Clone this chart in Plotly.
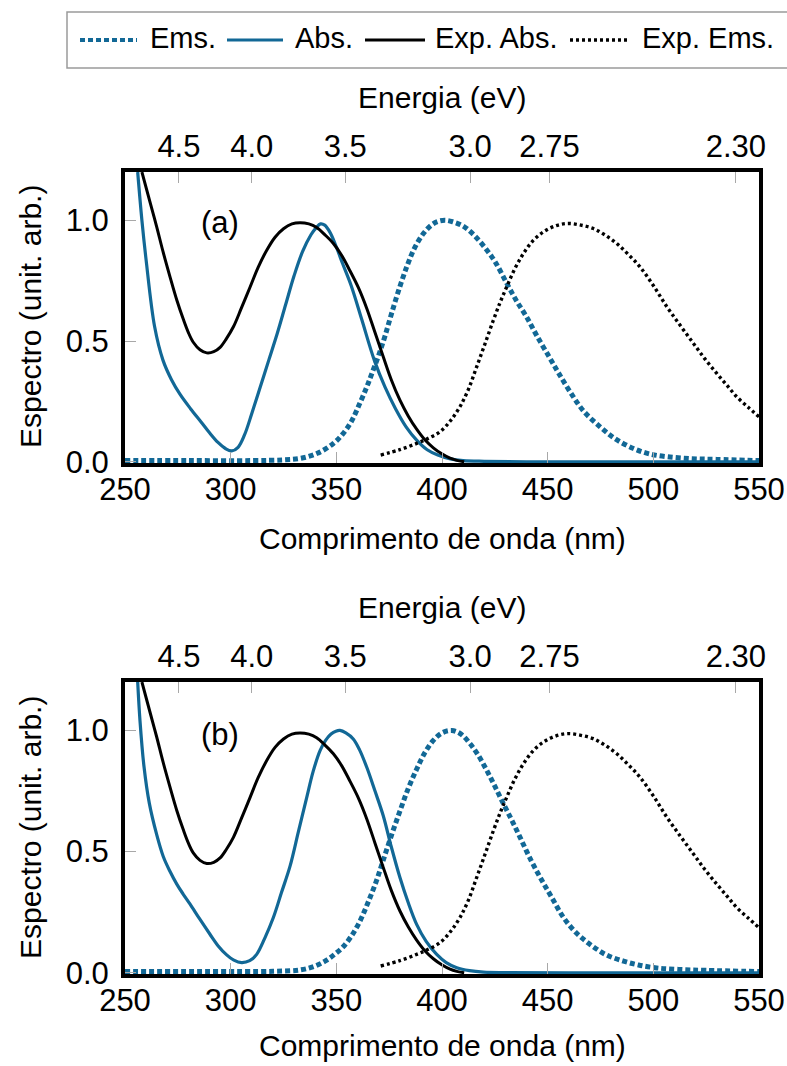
import plotly.graph_objects as go

# ---------------- data ----------------
wl_ticks = [250, 300, 350, 400, 450, 500, 550]
energy_ticks = [4.5, 4.0, 3.5, 3.0, 2.75, 2.30]
energy_labels = ["4.5", "4.0", "3.5", "3.0", "2.75", "2.30"]
y_ticks = [0.0, 0.5, 1.0]
y_labels = ["0.0", "0.5", "1.0"]

# experimental spectra (same in both panels)
exp_abs_wl = [258, 262, 265, 268, 271.3, 274.5, 277.6, 280, 282.3, 285.5, 288.7, 292, 295, 298,
              301.3, 305, 309.2, 313, 317, 321, 325, 329, 332.8, 337, 340.7, 344.6, 348.6, 352.5,
              356.5, 360.5, 364.4, 368.3, 372.2, 376, 380.1, 384, 388, 392, 395.9, 399.9, 403.8,
              407, 410.5]
exp_abs_y = [1.2, 1.07, 0.973, 0.87, 0.766, 0.67, 0.59, 0.535, 0.495, 0.464, 0.451, 0.456, 0.474,
             0.51, 0.559, 0.635, 0.724, 0.805, 0.875, 0.93, 0.965, 0.985, 0.99, 0.985, 0.97, 0.94,
             0.904, 0.855, 0.79, 0.72, 0.635, 0.535, 0.435, 0.34, 0.255, 0.19, 0.135, 0.09, 0.058,
             0.033, 0.015, 0.006, 0.0]
exp_ems_wl = [371, 380, 388, 393, 399, 404, 408.5, 412.5, 416.4, 420.4, 424.3, 427.5, 430.6, 434.5,
              438.5, 443, 448, 454, 459.8, 465.7, 471.6, 477, 482.7, 488, 493.7, 500, 506.4, 512.7,
              519, 524.5, 530, 535, 539.5, 545, 550]
exp_ems_y = [0.028, 0.05, 0.076, 0.095, 0.124, 0.17, 0.228, 0.3, 0.393, 0.49, 0.586, 0.66, 0.724,
             0.8, 0.862, 0.915, 0.952, 0.978, 0.987, 0.98, 0.966, 0.94, 0.904, 0.86, 0.807, 0.73,
             0.642, 0.565, 0.49, 0.425, 0.366, 0.315, 0.269, 0.225, 0.186]

# panel (a) computed spectra
a_abs_wl = [256, 258, 260, 264, 268, 272, 276, 281, 286, 290, 294, 297.5, 300.5, 303.5, 306.5,
            310, 314, 318, 322, 326, 330, 334, 338, 340.5, 342.5, 344.5, 347, 350, 353, 357, 362,
            368, 373, 378, 383, 388, 393, 398, 404, 410, 420, 440, 500, 550]
a_abs_y = [1.2, 1.0, 0.835, 0.56, 0.42, 0.34, 0.28, 0.22, 0.165, 0.12, 0.08, 0.055, 0.045, 0.06,
           0.11, 0.2, 0.31, 0.42, 0.53, 0.65, 0.77, 0.87, 0.94, 0.97, 0.985, 0.98, 0.95, 0.89,
           0.82, 0.73, 0.59, 0.42, 0.31, 0.22, 0.145, 0.09, 0.05, 0.028, 0.012, 0.005, 0.002, 0.0,
           0.0, 0.0]
a_ems_wl = [250, 280, 310, 325, 333, 341, 348.6, 353, 357, 361, 364.4, 367, 370, 373, 376, 379.5,
            383.3, 387, 391.2, 395, 398, 401.4, 405, 410, 415, 420, 425, 430.6, 435, 440, 445,
            451, 455, 460.6, 467, 474.8, 482, 490.6, 498, 506.4, 518, 530, 550]
a_ems_y = [0.005, 0.005, 0.005, 0.008, 0.014, 0.035, 0.076, 0.115, 0.165, 0.24, 0.31, 0.37, 0.44,
           0.52, 0.61, 0.71, 0.807, 0.885, 0.945, 0.98, 0.995, 1.0, 0.994, 0.976, 0.94, 0.89, 0.83,
           0.74, 0.67, 0.6, 0.52, 0.43, 0.37, 0.29, 0.21, 0.145, 0.095, 0.055, 0.033, 0.021, 0.013,
           0.01, 0.005]

# panel (b) computed spectra
b_abs_wl = [256, 257.1, 259, 261.5, 265, 268.1, 271.2, 274.5, 277.5, 280.8, 285.5, 290.2, 294,
            298.1, 301.5, 305.2, 309, 312.3, 316, 320.2, 324, 328.1, 332, 336, 339, 342.3, 345,
            347.5, 349.8, 351.7, 354.5, 358, 361, 364.4, 368.3, 372.2, 376, 380.1, 384, 388, 392.5,
            397.5, 402, 407, 413, 419.6, 430, 460, 550]
b_abs_y = [1.2, 1.04, 0.85, 0.70, 0.57, 0.48, 0.42, 0.366, 0.325, 0.283, 0.22, 0.159, 0.112, 0.074,
           0.052, 0.042, 0.05, 0.076, 0.14, 0.228, 0.33, 0.44, 0.58, 0.724, 0.83, 0.917, 0.96,
           0.985, 0.997, 1.0, 0.99, 0.965, 0.92, 0.848, 0.75, 0.648, 0.52, 0.393, 0.29, 0.2, 0.13,
           0.076, 0.042, 0.021, 0.009, 0.003, 0.001, 0.0, 0.0]
b_ems_wl = [250, 290, 320, 333, 340, 345, 349, 353, 357, 361, 365, 369, 372.2, 376, 380, 384,
            388, 392, 396, 400, 404.6, 409, 413.3, 417, 421.2, 425, 429.1, 433, 437, 441.5, 446.5,
            452, 457.5, 463.5, 470.1, 477.5, 485.9, 493, 501.6, 512, 525, 550]
b_ems_y = [0.005, 0.005, 0.006, 0.012, 0.028, 0.05, 0.075, 0.105, 0.15, 0.21, 0.29, 0.38, 0.465,
           0.565, 0.665, 0.76, 0.84, 0.91, 0.96, 0.99, 1.0, 0.985, 0.945, 0.9, 0.835, 0.77, 0.697,
           0.63, 0.558, 0.475, 0.393, 0.31, 0.228, 0.165, 0.117, 0.075, 0.048, 0.032, 0.02, 0.014,
           0.01, 0.005]

legend_names = ["Ems.", "Abs.", "Exp. Abs.", "Exp. Ems."]
panel_labels = ["(a)", "(b)"]

# ---------------- styling ----------------
W, H = 787, 1066
BLUE = "#126896"
BLACK = "#000000"
FONT = "Liberation Sans"
TICK_GRAY = "#a8a8a8"


def px(x):
    return x / W


def py(y):
    return 1 - y / H


XDOM = [px(125), px(759)]
YDOM_A = [py(463), py(172)]
YDOM_B = [py(974), py(682)]

styles = {
    "Ems.": dict(color=BLUE, width=5, dash="5px,3px"),
    "Abs.": dict(color=BLUE, width=3.2, dash="solid"),
    "Exp. Abs.": dict(color=BLACK, width=3.0, dash="solid"),
    "Exp. Ems.": dict(color=BLACK, width=3.4, dash="3px,3px"),
}

fig = go.Figure()

panels = [
    ("x", "x2", "y", a_abs_wl, a_abs_y, a_ems_wl, a_ems_y),
    ("x3", "x4", "y2", b_abs_wl, b_abs_y, b_ems_wl, b_ems_y),
]
for xb, xt, yy, abs_wl, abs_y, ems_wl, ems_y in panels:
    series = [
        ("Ems.", ems_wl, ems_y, xb),
        ("Abs.", abs_wl, abs_y, xb),
        ("Exp. Abs.", exp_abs_wl, exp_abs_y, xb),
        ("Exp. Ems.", exp_ems_wl, exp_ems_y, xt),
    ]
    for name, xs, ys, xa in series:
        fig.add_trace(go.Scatter(
            x=xs, y=ys, mode="lines", name=name, xaxis=xa, yaxis=yy,
            line=dict(shape="spline", smoothing=1.0, **styles[name]),
            showlegend=False, hoverinfo="skip"))

tickfont = dict(family=FONT, size=31, color="black")
common_x = dict(range=[250, 550], showgrid=False, zeroline=False, showline=True,
                linecolor="black", linewidth=4, ticks="inside", ticklen=11,
                tickcolor=TICK_GRAY, tickwidth=1, tickfont=tickfont, domain=XDOM,
                automargin=False)
common_y = dict(range=[-0.005, 1.2], showgrid=False, zeroline=False, showline=True,
                linecolor="black", linewidth=4, mirror=True, ticks="inside", ticklen=11,
                tickcolor=TICK_GRAY, tickwidth=1, tickfont=tickfont,
                tickvals=y_ticks, ticktext=y_labels, ticklabelstandoff=6, automargin=False)

energy_vals = [1239.84 / e for e in energy_ticks]

fig.update_layout(
    width=W, height=H,
    margin=dict(l=0, r=0, t=0, b=0, pad=0, autoexpand=False),
    paper_bgcolor="white", plot_bgcolor="white",
    font=dict(family=FONT, size=30, color="black"),
    showlegend=False,
    xaxis=dict(anchor="y", tickvals=wl_ticks, mirror=True, ticklabelstandoff=-4, **common_x),
    xaxis2=dict(anchor="y", overlaying="x", side="top", tickvals=energy_vals,
                ticktext=energy_labels, ticklabelstandoff=-1, **common_x),
    xaxis3=dict(anchor="y2", tickvals=wl_ticks, mirror=True, ticklabelstandoff=-4, **common_x),
    xaxis4=dict(anchor="y2", overlaying="x3", side="top", tickvals=energy_vals,
                ticktext=energy_labels, ticklabelstandoff=-1, **common_x),
    yaxis=dict(anchor="x", domain=YDOM_A, **common_y),
    yaxis2=dict(anchor="x3", domain=YDOM_B, **common_y),
)

ann = []
title_font = dict(family=FONT, size=30, color="black")
xc = (125 + 759) / 2
for (top_title_y, bottom_title_y, ycenter) in [(97, 538, 317), (607, 1045, 828)]:
    ann.append(dict(text="Energia (eV)", x=px(xc), y=py(top_title_y), xref="paper", yref="paper",
                    showarrow=False, xanchor="center", yanchor="middle", font=title_font))
    ann.append(dict(text="Comprimento de onda (nm)", x=px(xc), y=py(bottom_title_y), xref="paper",
                    yref="paper", showarrow=False, xanchor="center", yanchor="middle",
                    font=title_font))
    ann.append(dict(text="Espectro (unit. arb.)", x=px(30), y=py(ycenter), xref="paper",
                    yref="paper", showarrow=False, xanchor="center", yanchor="middle",
                    textangle=-90, font=title_font))

ann.append(dict(text=panel_labels[0], x=295, y=0.99, xref="x", yref="y", showarrow=False,
                font=dict(family=FONT, size=31, color="black")))
ann.append(dict(text=panel_labels[1], x=295, y=0.985, xref="x3", yref="y2", showarrow=False,
                font=dict(family=FONT, size=31, color="black")))

# legend (drawn manually so it can run off the right edge like the original)
shapes = [dict(type="rect", xref="paper", yref="paper", x0=px(67), x1=px(820), y0=py(68),
               y1=py(12), line=dict(color="#9a9a9a", width=1.5), fillcolor="white", layer="above")]
leg_lines = [(80, 137), (227, 283), (365, 425), (570, 630)]
leg_text_x = [148, 293, 433, 640]
for name, (x0, x1), tx in zip(legend_names, leg_lines, leg_text_x):
    st = styles[name]
    shapes.append(dict(type="line", xref="paper", yref="paper", x0=px(x0), x1=px(x1),
                       y0=py(40), y1=py(40), layer="above",
                       line=dict(color=st["color"], width=min(st["width"], 4), dash=st["dash"])))
    ann.append(dict(text=name, x=px(tx), y=py(38), xref="paper", yref="paper", showarrow=False,
                    xanchor="left", yanchor="middle",
                    font=dict(family=FONT, size=29, color="black")))

fig.update_layout(annotations=ann, shapes=shapes)
fig.write_html("out.html")
